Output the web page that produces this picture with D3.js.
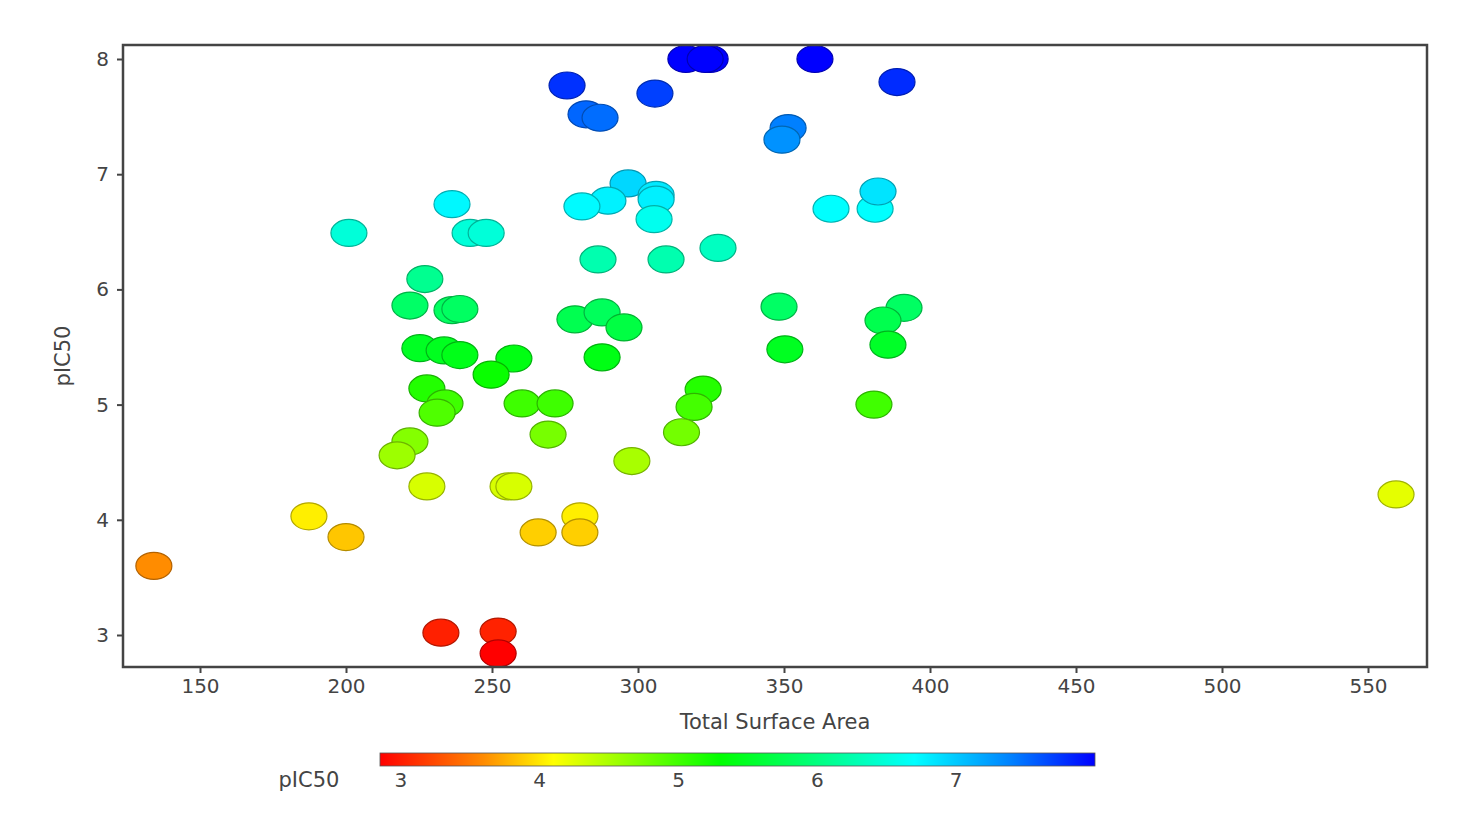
<!DOCTYPE html>
<html><head><meta charset="utf-8">
<script src="https://cdn.jsdelivr.net/npm/d3@7"></script>
<style>body{margin:0;background:#fff}text{font-family:"DejaVu Sans",sans-serif;fill:#444}</style>
</head><body><svg id="c" width="1482" height="824"></svg>
<script>
// Total surface area (x) and pIC50 (y)
const tsa = [316.4,324.7,323,360.6,275.7,305.8,388.7,282.2,287,351.4,349.3,296.6,306.2,306.2,289.7,280.8,236.3,305.5,201,242.5,248,286.3,309.6,327.4,366.1,381.2,382.2,227,221.9,236.3,239,348.3,391.1,383.9,278.4,287.7,295.2,225.3,233.6,239,257.5,287.7,350.3,385.6,249.7,227.7,233.9,231.2,260.3,271.6,322.3,319.2,380.8,221.9,217.5,269.2,314.9,297.9,227.7,255.5,257.5,559.6,187.3,200,280.1,265.8,280.1,134.2,232.5,252.1,252.1];
const pic50 = [8.0,8.0,8.0,8.0,7.77,7.70,7.80,7.52,7.49,7.40,7.30,6.92,6.82,6.78,6.77,6.72,6.74,6.61,6.49,6.49,6.49,6.26,6.26,6.36,6.70,6.70,6.85,6.09,5.86,5.82,5.83,5.85,5.84,5.73,5.74,5.80,5.67,5.49,5.47,5.43,5.40,5.41,5.48,5.52,5.26,5.14,5.01,4.93,5.01,5.01,5.13,4.98,5.00,4.68,4.56,4.74,4.76,4.51,4.29,4.29,4.29,4.22,4.03,3.85,4.03,3.89,3.89,3.60,3.02,3.03,2.84];
const xTicks = [150,200,250,300,350,400,450,500,550];
const yTicks = [3,4,5,6,7,8];
const cbTicks = [3,4,5,6,7];
const colorStops = [2.85,3.6,4.1,5.3,6.7,7.4,8.0];
const colorRange = ["#ff0000","#ff8c00","#ffff00","#00ff00","#00ffff","#0080ff","#0000ff"];

const svg = d3.select('#c');
const L=123,R=1427,T=45,B=667;
const x = d3.scaleLinear().domain([150,550]).range([200,1368]);
const y = d3.scaleLinear().domain([3,8]).range([635,59]);
const color = d3.scaleLinear().domain(colorStops).range(colorRange);

const data = tsa.map((v,i)=>({x:v,y:pic50[i]}));
svg.append('g').selectAll('ellipse').data(data).join('ellipse')
  .attr('cx',d=>x(d.x)).attr('cy',d=>y(d.y)).attr('rx',18).attr('ry',13.5)
  .attr('fill',d=>color(d.y)).attr('stroke',d=>d3.color(color(d.y)).darker(1)).attr('stroke-width',1.2);

svg.append('rect').attr('x',L).attr('y',T).attr('width',R-L).attr('height',B-T)
  .attr('fill','none').attr('stroke','#444').attr('stroke-width',2.5);

const xa = svg.append('g').attr('transform',`translate(0,${B})`).call(d3.axisBottom(x).tickValues(xTicks).tickSize(6).tickPadding(6));
const ya = svg.append('g').attr('transform',`translate(${L},0)`).call(d3.axisLeft(y).tickValues(yTicks).tickFormat(d3.format('d')).tickSize(6).tickPadding(8));
[xa,ya].forEach(a=>{a.select('.domain').remove();a.selectAll('line').attr('stroke','#444').attr('stroke-width',2);a.selectAll('text').style('font-size','20px').attr('fill','#444');});

svg.append('text').attr('x',775).attr('y',729).attr('text-anchor','middle').style('font-size','21px').text('Total Surface Area');
svg.append('text').attr('transform','translate(70,356) rotate(-90)').attr('text-anchor','middle').style('font-size','21px').text('pIC50');

// colour bar
const cb = d3.scaleLinear().domain([2.85,8.0]).range([380,1095]);
const grad = svg.append('defs').append('linearGradient').attr('id','g');
colorStops.forEach((s,i)=>grad.append('stop').attr('offset',(cb(s)-380)/715).attr('stop-color',colorRange[i]));
svg.append('rect').attr('x',380).attr('y',753).attr('width',715).attr('height',13).attr('fill','url(#g)').attr('stroke','#555').attr('stroke-width',0.8);
svg.append('g').selectAll('text').data(cbTicks).join('text').attr('x',d=>cb(d)).attr('y',787).attr('text-anchor','middle').style('font-size','20px').text(d=>d);
svg.append('text').attr('x',309).attr('y',787).attr('text-anchor','middle').style('font-size','21px').text('pIC50');
</script></body></html>
